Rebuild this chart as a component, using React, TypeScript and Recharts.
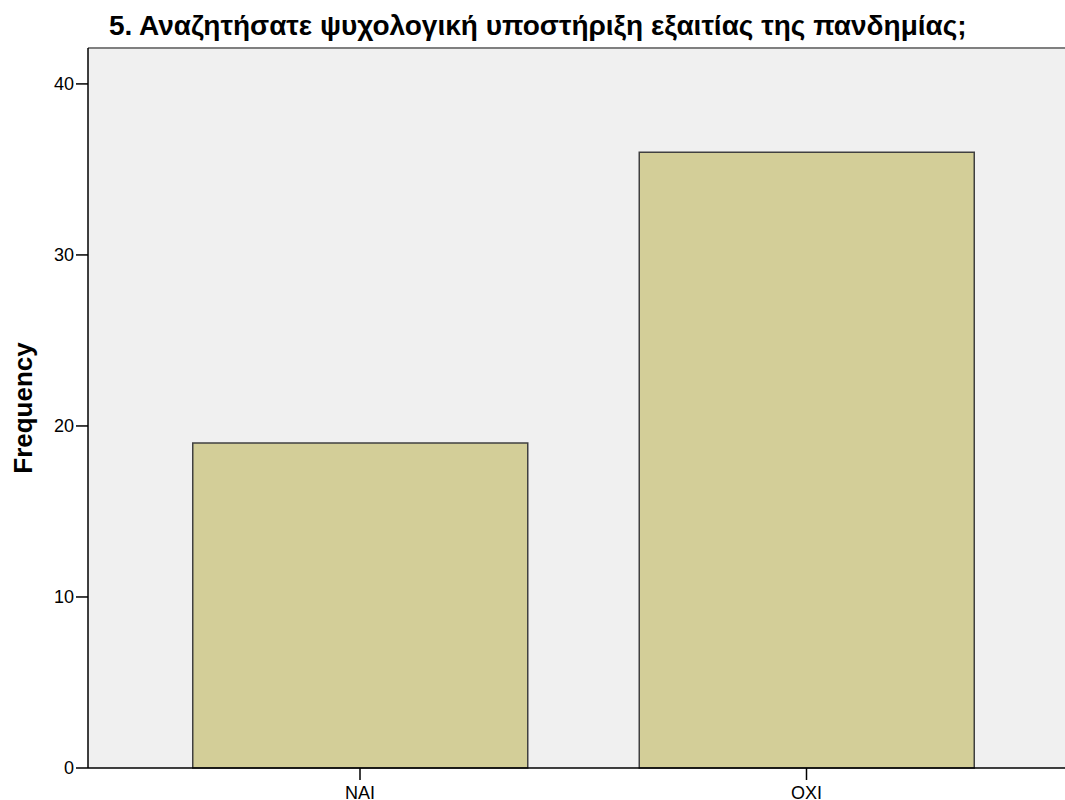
import {
  Bar,
  BarChart,
  CartesianGrid,
  ReferenceLine,
  XAxis,
  YAxis,
} from "recharts";

const categories = ["ΝΑΙ", "ΟΧΙ"];
const frequencies = [19, 36];
const yTicks = [0, 10, 20, 30, 40];
const yMax = 42.1;

const TITLE = "5. Αναζητήσατε ψυχολογική υποστήριξη εξαιτίας της πανδημίας;";
const FONT = "'Liberation Sans', Arial, sans-serif";

const chartData = categories.map((name, i) => ({
  name,
  value: frequencies[i],
}));

export default function App() {
  return (
    <div
      style={{
        position: "absolute",
        left: 0,
        top: 0,
        width: 1065,
        height: 800,
        background: "#fff",
        fontFamily: FONT,
      }}
    >
      <BarChart
        width={1065}
        height={800}
        data={chartData}
        margin={{ top: 48, right: 0, bottom: 0, left: 0 }}
      >
        <CartesianGrid
          horizontal={false}
          vertical={false}
          fill="#f0f0f0"
          fillOpacity={1}
        />
        <XAxis
          dataKey="name"
          height={32}
          padding={{ left: 48.75, right: 35.25 }}
          tickSize={12}
          tickMargin={6}
          axisLine={{ stroke: "#000", strokeWidth: 1.5 }}
          tickLine={{ stroke: "#000", strokeWidth: 1.5 }}
          tick={{ fill: "#000", fontSize: 18, fontFamily: FONT }}
        />
        <YAxis
          type="number"
          domain={[0, yMax]}
          ticks={yTicks}
          width={88}
          tickSize={12}
          axisLine={{ stroke: "#000", strokeWidth: 1.5 }}
          tickLine={{ stroke: "#000", strokeWidth: 1.5 }}
          tick={{ fill: "#000", fontSize: 18, fontFamily: FONT }}
        />
        <ReferenceLine y={yMax} stroke="#808080" strokeWidth={2} />
        <Bar
          dataKey="value"
          fill="#d3ce98"
          stroke="#404040"
          strokeWidth={1.5}
          barSize={335}
          isAnimationActive={false}
        />
      </BarChart>
      <svg
        width={1065}
        height={800}
        style={{ position: "absolute", left: 0, top: 0, pointerEvents: "none" }}
      >
        <text
          x={109}
          y={35}
          fontSize={28}
          fontWeight="bold"
          fontFamily={FONT}
          fill="#000"
        >
          {TITLE}
        </text>
        <text
          x={32}
          y={408}
          transform="rotate(-90 32 408)"
          textAnchor="middle"
          fontSize={26}
          fontWeight="bold"
          fontFamily={FONT}
          fill="#000"
        >
          Frequency
        </text>
      </svg>
    </div>
  );
}
